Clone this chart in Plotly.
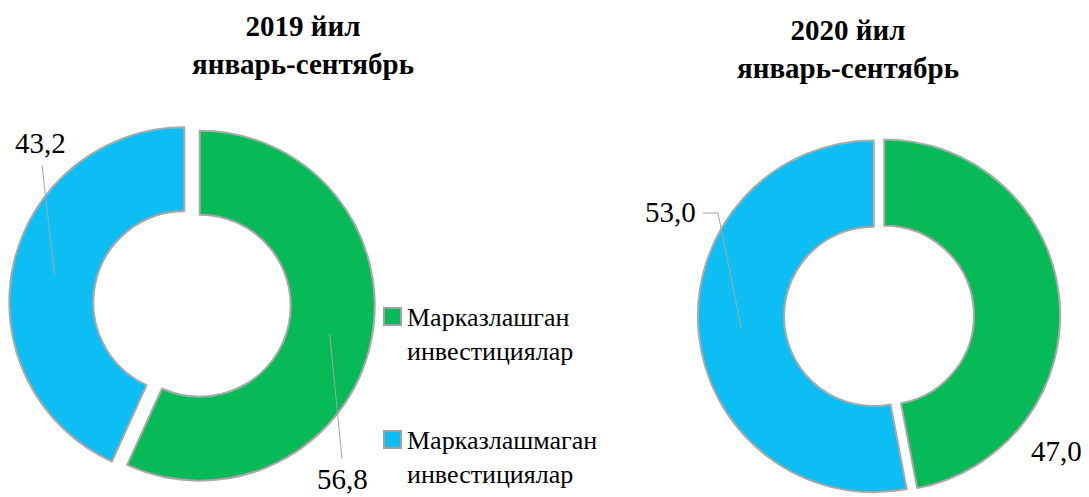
import math
import plotly.graph_objects as go

W, H = 1089, 497

# ---- data -------------------------------------------------------------
categories = ["Марказлашган инвестициялар", "Марказлашмаган инвестициялар"]
legend_labels = ["Марказлашган<br>инвестициялар", "Марказлашмаган<br>инвестициялар"]
values_2019 = [56.8, 43.2]
values_2020 = [47.0, 53.0]
titles = ["2019 йил<br>январь-сентябрь", "2020 йил<br>январь-сентябрь"]
colors = ["#06BB57", "#0DBEF5"]

SERIF = "Liberation Serif"


def fmt(v):
    return f"{v:.1f}".replace(".", ",")


def px(x):
    return x / W


def py(y):
    return 1 - y / H


# pie geometry in pixels (from top-left of the page)
pies = [
    dict(values=values_2019, cx=192, cy=304, r=175, hole=0.52, pull=0.045),
    dict(values=values_2020, cx=879, cy=316, r=176, hole=0.51, pull=0.03),
]

fig = go.Figure()
for p in pies:
    half = p["r"] * (1 + p["pull"])
    fig.add_trace(go.Pie(
        labels=categories,
        values=p["values"],
        sort=False,
        direction="clockwise",
        rotation=0,
        hole=p["hole"],
        pull=[p["pull"]] * len(p["values"]),
        marker=dict(colors=colors, line=dict(color="#A9A9A9", width=2)),
        textinfo="none",
        showlegend=False,
        domain=dict(
            x=[px(p["cx"] - half), px(p["cx"] + half)],
            y=[max(0, py(p["cy"] + half)), min(1, py(p["cy"] - half))],
        ),
    ))


def slice_tip(p, i):
    """point in the middle of the ring of slice i (pixels)"""
    vals = p["values"]
    tot = sum(vals)
    start = sum(vals[:i]) / tot
    mid = (start + vals[i] / tot / 2) * 2 * math.pi
    d = p["r"] * (1 + p["hole"]) / 2 + p["r"] * p["pull"]
    return p["cx"] + d * math.sin(mid), p["cy"] - d * math.cos(mid)


annotations = []
shapes = []

# titles
for title, (x, y) in zip(titles, [(303, 45), (848, 49)]):
    annotations.append(dict(
        text=f"<b>{title}</b>", x=px(x), y=py(y), xref="paper", yref="paper",
        xanchor="center", yanchor="middle", showarrow=False,
        font=dict(family=SERIF, size=29, color="#000000"),
    ))

# value labels
label_pos = [
    [(342, 479), (40, 143)],
    [(1056, 451), (670, 212)],
]
for p, poss in zip(pies, label_pos):
    for v, (x, y) in zip(p["values"], poss):
        annotations.append(dict(
            text=fmt(v), x=px(x), y=py(y), xref="paper", yref="paper",
            xanchor="center", yanchor="middle", showarrow=False,
            font=dict(family=SERIF, size=29, color="#000000"),
        ))

# leader lines
line_style = dict(color="#A6A6A6", width=1)
tx, ty = slice_tip(pies[0], 1)
shapes.append(dict(type="path", xref="paper", yref="paper",
                   path=f"M {px(42)} {py(165)} L {px(tx)} {py(ty)}", line=line_style))
tx, ty = slice_tip(pies[0], 0)
shapes.append(dict(type="path", xref="paper", yref="paper",
                   path=f"M {px(342)} {py(459)} L {px(tx)} {py(ty)}", line=line_style))
tx, ty = slice_tip(pies[1], 1)
shapes.append(dict(type="path", xref="paper", yref="paper",
                   path=f"M {px(703)} {py(213)} L {px(718)} {py(213)} L {px(tx)} {py(ty)}",
                   line=line_style))

# legend (drawn manually to match spacing)
legend_rows = [308, 431]
for lab, col, top in zip(legend_labels, colors, legend_rows):
    shapes.append(dict(type="rect", xref="paper", yref="paper",
                       x0=px(384), x1=px(401), y0=py(top + 17), y1=py(top),
                       fillcolor=col, line=dict(color="#A0A0A0", width=2)))
    annotations.append(dict(
        text=lab, x=px(405), y=py(top - 7), xref="paper", yref="paper",
        xanchor="left", yanchor="top", align="left", showarrow=False,
        font=dict(family=SERIF, size=26, color="#000000"),
    ))

fig.update_layout(
    width=W, height=H,
    margin=dict(l=0, r=0, t=0, b=0),
    paper_bgcolor="#FFFFFF",
    plot_bgcolor="#FFFFFF",
    showlegend=False,
    annotations=annotations,
    shapes=shapes,
)

fig.write_html(
    "out.html",
    config={"displayModeBar": False},
    post_script="document.body.style.margin='0';document.body.style.overflow='hidden';",
)
